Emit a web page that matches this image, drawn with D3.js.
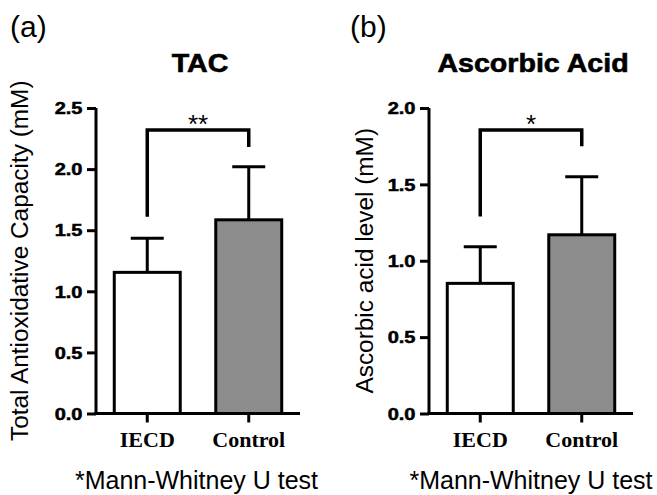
<!DOCTYPE html>
<html>
<head>
<meta charset="utf-8">
<script src="https://cdn.jsdelivr.net/npm/d3@7"></script>
<style>
  html, body { margin: 0; padding: 0; background: #fff; }
  svg { display: block; }
</style>
</head>
<body>
<svg id="chart" width="657" height="495"></svg>
<script>
// ---- data ----
const categories = ["IECD", "Control"];
const tacMeans = [1.155, 1.585];
const tacSD = [0.28, 0.435];
const tacTicks = [0, 0.5, 1.0, 1.5, 2.0, 2.5];
const tacBracket = [1.61, 2.32, 2.18]; // left leg bottom, top, right leg bottom
const tacSig = "**";

const aaMeans = [0.852, 1.17];
const aaSD = [0.24, 0.38];
const aaTicks = [0, 0.5, 1.0, 1.5, 2.0];
const aaBracket = [1.29, 1.856, 1.75];
const aaSig = "*";

const panelLabels = ["(a)", "(b)"];
const titles = ["TAC", "Ascorbic Acid"];
const yLabels = ["Total Antioxidative Capacity (mM)", "Ascorbic acid level (mM)"];
const footnote = "*Mann-Whitney U test";
const barFills = ["#ffffff", "#8c8c8c"];

// ---- drawing ----
const svg = d3.select("#chart");
const sans = "'Liberation Sans', Arial, Helvetica, sans-serif";
const serif = "'Liberation Serif', 'Times New Roman', serif";

const panels = [
  { x0: 96, x1: 300, means: tacMeans, sd: tacSD, ticks: tacTicks, max: 2.5, bracket: tacBracket, sig: tacSig,
    label: panelLabels[0], labelX: 10, title: titles[0], yLabel: yLabels[0], yLabelX: 28 },
  { x0: 429, x1: 633, means: aaMeans, sd: aaSD, ticks: aaTicks, max: 2.0, bracket: aaBracket, sig: aaSig,
    label: panelLabels[1], labelX: 350, title: titles[1], yLabel: yLabels[1], yLabelX: 373 }
];

const yTop = 108, yBottom = 413.5;

panels.forEach(p => {
  const g = svg.append("g");
  const x = d3.scaleBand().domain(categories).range([p.x0, p.x1]).paddingInner(0.35).paddingOuter(0.18);
  const y = d3.scaleLinear().domain([0, p.max]).range([yBottom, yTop]);
  const cx = (p.x0 + p.x1) / 2;

  // panel label
  g.append("text").attr("x", p.labelX).attr("y", 37)
    .attr("font-family", sans).attr("font-size", 30).attr("fill", "#000").text(p.label);

  // title
  g.append("g").attr("transform", `translate(${cx + 2},72) scale(1.1,1)`)
    .append("text").attr("text-anchor", "middle")
    .attr("font-family", sans).attr("font-weight", "bold").attr("font-size", 26).attr("fill", "#000")
    .attr("stroke", "#000").attr("stroke-width", 0.6)
    .text(p.title);

  // y label
  g.append("text")
    .attr("transform", `translate(${p.yLabelX},${(yTop + yBottom) / 2}) rotate(-90)`)
    .attr("text-anchor", "middle").attr("font-family", sans).attr("font-size", 24.4).attr("fill", "#000")
    .text(p.yLabel);

  // error bars (upper)
  const eb = g.append("g").attr("stroke", "#000").attr("stroke-width", 3).attr("fill", "none");
  categories.forEach((c, i) => {
    const bx = x(c) + x.bandwidth() / 2;
    eb.append("line").attr("x1", bx).attr("x2", bx)
      .attr("y1", y(p.means[i])).attr("y2", y(p.means[i] + p.sd[i]));
    eb.append("line").attr("x1", bx - 16.5).attr("x2", bx + 16.5)
      .attr("y1", y(p.means[i] + p.sd[i])).attr("y2", y(p.means[i] + p.sd[i]));
  });

  // bars
  g.append("g").selectAll("rect").data(categories).join("rect")
    .attr("x", d => x(d)).attr("width", x.bandwidth())
    .attr("y", (d, i) => y(p.means[i])).attr("height", (d, i) => y(0) - y(p.means[i]))
    .attr("fill", (d, i) => barFills[i]).attr("stroke", "#000").attr("stroke-width", 3);

  // y axis
  const ya = g.append("g").attr("transform", `translate(${p.x0},0)`)
    .call(d3.axisLeft(y).tickValues(p.ticks).tickSize(9).tickSizeOuter(0).tickFormat(d3.format(".1f")));
  ya.select(".domain").attr("stroke-width", 3).attr("stroke", "#000").attr("d", `M0,${yTop}V${yBottom + 1.5}`);
  ya.selectAll(".tick line").attr("stroke-width", 3).attr("stroke", "#000");
  ya.selectAll(".tick text")
    .attr("font-family", sans).attr("font-weight", "bold").attr("font-size", 16).attr("fill", "#000")
    .attr("stroke", "#000").attr("stroke-width", 0.5)
    .attr("x", -13.5 / 1.25).attr("dy", "0.36em").attr("transform", "scale(1.25,1)");

  // x axis
  const xa = g.append("g").attr("transform", `translate(0,${yBottom})`)
    .call(d3.axisBottom(x).tickSize(9).tickSizeOuter(0).tickPadding(9));
  xa.select(".domain").attr("stroke-width", 3).attr("stroke", "#000").attr("d", `M${p.x0 - 1.5},0H${p.x1}`);
  xa.selectAll(".tick line").attr("stroke-width", 3).attr("stroke", "#000");
  xa.selectAll(".tick text")
    .attr("font-family", serif).attr("font-weight", "bold").attr("font-size", 22).attr("fill", "#000");

  // significance bracket
  const xl = x(categories[0]) + x.bandwidth() / 2;
  const xr = x(categories[1]) + x.bandwidth() / 2;
  g.append("path")
    .attr("d", `M${xl},${y(p.bracket[0])}V${y(p.bracket[1])}H${xr}V${y(p.bracket[2])}`)
    .attr("fill", "none").attr("stroke", "#000").attr("stroke-width", 3.5);
  g.append("text").attr("x", (xl + xr) / 2).attr("y", y(p.bracket[1]) + 3)
    .attr("text-anchor", "middle").attr("font-family", sans).attr("font-size", 26).attr("fill", "#000")
    .text(p.sig);

  // footnote
  g.append("text").attr("x", cx + (p.x0 === 96 ? -1.5 : 0)).attr("y", 489)
    .attr("text-anchor", "middle").attr("font-family", sans).attr("font-size", 25).attr("fill", "#000")
    .text(footnote);
});
</script>
</body>
</html>
